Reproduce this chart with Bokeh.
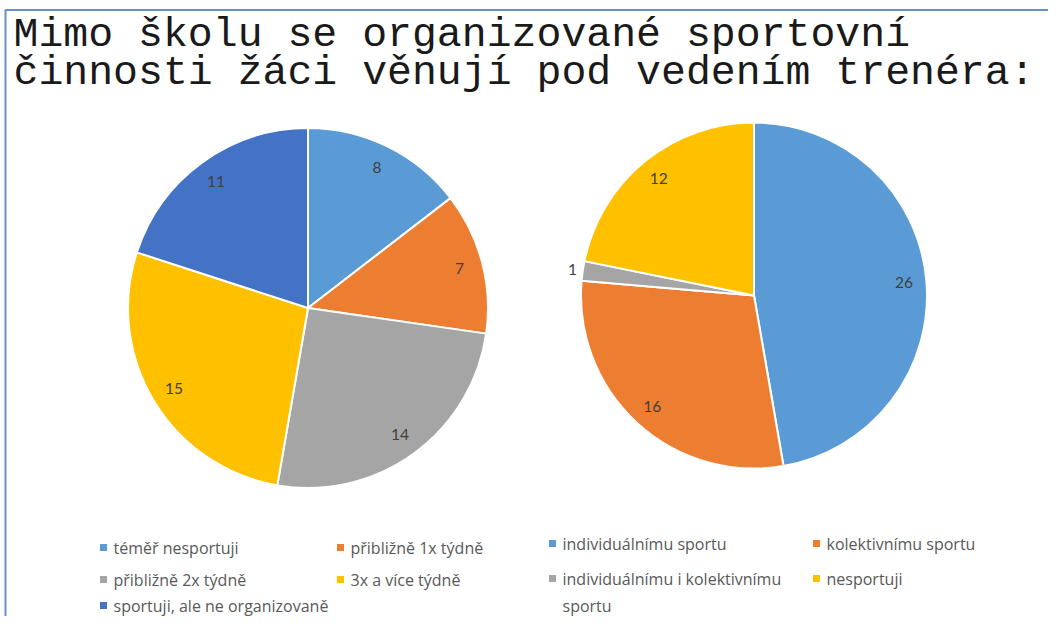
import math
from bokeh.plotting import figure
from bokeh.models import Range1d, ColumnDataSource
from bokeh.core.properties import value
from bokeh.embed import file_html
from bokeh.resources import INLINE

# ---- data ----
title_lines = ["Mimo školu se organizované sportovní",
               "činnosti žáci věnují pod vedením trenéra:"]

pie1_labels = ["téměř nesportuji", "přibližně 1x týdně", "přibližně 2x týdně",
               "3x a více týdně", "sportuji, ale ne organizovaně"]
pie1_values = [8, 7, 14, 15, 11]
pie1_colors = ["#5B9BD5", "#ED7D31", "#A5A5A5", "#FFC000", "#4472C4"]

pie2_labels = ["individuálnímu sportu", "kolektivnímu sportu",
               "individuálnímu i kolektivnímu\nsportu", "nesportuji"]
pie2_values = [26, 16, 1, 12]
pie2_colors = ["#5B9BD5", "#ED7D31", "#A5A5A5", "#FFC000"]

W, H = 1048, 616
p = figure(width=W, height=H, output_backend="svg", toolbar_location=None,
           x_range=Range1d(0, W), y_range=Range1d(632 - H, 632),
           min_border=0)
p.axis.visible = False
p.grid.visible = False
p.outline_line_color = None
p.background_fill_color = "white"
p.border_fill_color = "white"

def Y(ref_y):
    return 632 - ref_y

# frame lines
p.segment(x0=[5, 5], y0=[Y(9.5), Y(9)], x1=[1064, 5], y1=[Y(9.5), Y(640)],
          line_color="#6A8FC8", line_width=2)

# title
p.text(x=[13, 13], y=[Y(34), Y(72)], text=title_lines,
       text_font=value("Liberation Mono"), text_font_size="41.5px",
       text_color="#1a1a1a", text_baseline="middle", text_align="left")

def draw_pie(cx, cy, r, vals, cols):
    total = float(sum(vals))
    starts, ends, lx, ly, txt = [], [], [], [], []
    cum = 0.0
    for v in vals:
        a0 = math.pi / 2 - cum / total * 2 * math.pi
        cum += v
        a1 = math.pi / 2 - cum / total * 2 * math.pi
        starts.append(a0)
        ends.append(a1)
        mid = (a0 + a1) / 2
        rr = r * 0.87 if v / total > 0.05 else r * 1.06
        lx.append(cx + rr * math.cos(mid))
        ly.append(cy + rr * math.sin(mid))
        txt.append(str(v))
    src = ColumnDataSource(dict(x=[cx] * len(vals), y=[cy] * len(vals),
                                s=starts, e=ends, c=cols))
    p.wedge(x="x", y="y", radius=r, start_angle="s", end_angle="e",
            direction="clock", fill_color="c", line_color="white",
            line_width=2, source=src)
    p.text(x=lx, y=ly, text=txt, text_font=value("Lato"),
           text_font_size="15.5px", text_color="#404040",
           text_align="center", text_baseline="middle")

draw_pie(307.5, Y(307.5), 180, pie1_values, pie1_colors)
draw_pie(753.5, Y(295), 173, pie2_values, pie2_colors)

# legends
def draw_legend(labels, cols, xs, ys):
    p.scatter(x=xs, y=ys, marker="square", size=7, fill_color=cols,
              line_color=None)
    p.text(x=[m + 10 for m in xs], y=[v + 11 for v in ys], text=labels,
           text_font=value("Open Sans"), text_font_size="16px",
           text_color="#595959", text_align="left", text_baseline="top",
           text_line_height=1.25)

draw_legend(pie1_labels, pie1_colors,
            [103, 340, 103, 340, 103],
            [Y(547), Y(547), Y(579), Y(579), Y(605)])
draw_legend(pie2_labels, pie2_colors,
            [552, 816, 552, 816],
            [Y(543), Y(543), Y(578), Y(578)])

open("out.html", "w").write(file_html(p, INLINE))
